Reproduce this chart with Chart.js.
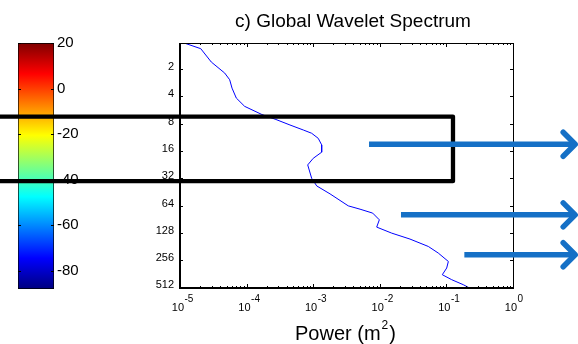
<!DOCTYPE html>
<html>
<head>
<meta charset="utf-8">
<script src="https://cdn.jsdelivr.net/npm/chart.js@4.4.1/dist/chart.umd.min.js"></script>
<style>
  html, body { margin: 0; padding: 0; background: #fff; }
  #wrap { position: relative; width: 578px; height: 344px; overflow: hidden; }
  #wrap canvas { position: absolute; left: 0; top: 0; }
</style>
</head>
<body>
<div id="wrap">
  <canvas id="cbar" width="100" height="344"></canvas>
  <canvas id="gws" width="578" height="344"></canvas>
</div>
<script>
/* c) Global Wavelet Spectrum + colour scale */
const FONT = '"Liberation Sans", Arial, Helvetica, sans-serif';

// global wavelet spectrum (period vs power)
const PERIOD = [1.02, 1.19, 1.67, 2.21, 2.62, 3.24, 4.17, 5.15, 6.34, 7.19, 8.27, 9.39, 10.2, 11.6, 13.7, 16.5,
                19.3, 22.8, 32.0, 38.9, 47.6, 64.5, 70.2, 77.6, 92.0, 110.7, 129, 150, 181, 214, 265, 313, 371, 421, 478, 523];
const POWER = [1.11e-5, 2.05e-5, 2.95e-5, 4.69e-5, 5.57e-5, 6.04e-5, 7.0e-5, 9.35e-5, 1.70e-4, 2.76e-4, 4.48e-4, 7.10e-4, 9.48e-4, 1.19e-3, 1.34e-3, 1.34e-3,
               1.00e-3, 8.27e-4, 9.48e-4, 1.13e-3, 1.79e-3, 3.36e-3, 5.05e-3, 7.82e-3, 9.84e-3, 8.98e-3, 1.51e-2, 2.84e-2, 5.35e-2, 7.55e-2, 0.107, 0.101, 0.0868, 0.120, 0.179, 0.226];

const PERIOD_TICKS = [2, 4, 8, 16, 32, 64, 128, 256, 512];
const PERIOD_RANGE = [1.03, 520];
const POWER_EXPONENTS = [-5, -4, -3, -2, -1, 0];

// colour bar
const CBAR_TICKS = [20, 0, -20, -40, -60, -80];
const CBAR_RANGE = [-88.1, 20];
const JET_STOPS = [0, 0.125, 0.375, 0.625, 0.875, 1];
const JET_COLORS = ['#00007f', '#0000ff', '#00ffff', '#ffff00', '#ff0000', '#7f0000'];

// overlay marks, in data units of the spectrum axes
const BOX = { xMin: 1e-8, xMax: 0.1256, yTop: 6.67, yBottom: 34.5 };
const ARROWS = [
  { y: 13.5, from: 6.89e-3, to: 9.2 },
  { y: 81.1, from: 0.0208, to: 9.2 },
  { y: 223.6, from: 0.186, to: 9.2 }
];

const cbarTicks = {
  id: 'cbarTicks',
  afterDraw(chart) {
    const { ctx, chartArea: a, scales: { y } } = chart;
    ctx.save();
    ctx.strokeStyle = '#000';
    ctx.lineWidth = 1;
    CBAR_TICKS.forEach(v => {
      const py = Math.round(y.getPixelForValue(v)) + 0.5;
      ctx.beginPath();
      ctx.moveTo(a.left, py); ctx.lineTo(a.left + 3, py);
      ctx.moveTo(a.right - 3, py); ctx.lineTo(a.right, py);
      ctx.stroke();
    });
    ctx.restore();
  }
};

new Chart(document.getElementById('cbar'), {
  type: 'bar',
  data: {
    labels: [''],
    datasets: [{
      data: [CBAR_RANGE],
      backgroundColor: (c) => {
        const chart = c.chart;
        if (!chart.chartArea) return null;
        const ys = chart.scales.y;
        const g = chart.ctx.createLinearGradient(0, ys.getPixelForValue(CBAR_RANGE[0]), 0, ys.getPixelForValue(CBAR_RANGE[1]));
        JET_STOPS.forEach((s, i) => g.addColorStop(s, JET_COLORS[i]));
        return g;
      },
      borderColor: '#000',
      borderWidth: 1,
      borderSkipped: false,
      barPercentage: 1,
      categoryPercentage: 1
    }]
  },
  options: {
    responsive: false,
    animation: false,
    events: [],
    layout: { padding: { left: 18, top: 43, bottom: 55, right: 0 } },
    plugins: { legend: { display: false }, tooltip: { enabled: false } },
    scales: {
      x: { display: false },
      y: {
        position: 'right',
        min: CBAR_RANGE[0], max: CBAR_RANGE[1],
        afterBuildTicks: s => { s.ticks = CBAR_TICKS.map(v => ({ value: v })); },
        afterFit: s => { s.width = 46; },
        grid: { display: false, drawTicks: false },
        border: { display: false },
        ticks: { color: '#000', padding: 3, font: { size: 15, family: FONT } }
      }
    }
  },
  plugins: [cbarTicks]
});

const frame = {
  id: 'frame',
  afterDraw(chart) {
    const { ctx, chartArea: a, scales: { x, y } } = chart;
    ctx.save();
    ctx.strokeStyle = '#000';
    ctx.fillStyle = '#000';

    // x ticks (inward, top and bottom)
    ctx.lineWidth = 1;
    ctx.beginPath();
    POWER_EXPONENTS.forEach(e => {
      for (let m = 1; m < 10; m++) {
        if (e === 0 && m > 1) break;
        const px = Math.round(x.getPixelForValue(m * Math.pow(10, e))) + 0.5;
        const len = m === 1 ? 4 : 2;
        ctx.moveTo(px, a.bottom); ctx.lineTo(px, a.bottom - len);
        ctx.moveTo(px, a.top); ctx.lineTo(px, a.top + len);
      }
    });
    // y ticks (inward, left and right)
    PERIOD_TICKS.forEach(v => {
      const py = Math.round(y.getPixelForValue(v)) + 0.5;
      ctx.moveTo(a.left, py); ctx.lineTo(a.left + 3, py);
      ctx.moveTo(a.right, py); ctx.lineTo(a.right - 3, py);
    });
    ctx.stroke();

    // box: left/bottom heavier
    ctx.beginPath();
    ctx.moveTo(a.left, a.top + 0.5); ctx.lineTo(a.right + 0.5, a.top + 0.5); ctx.lineTo(a.right + 0.5, a.bottom);
    ctx.stroke();
    ctx.lineWidth = 2;
    ctx.beginPath();
    ctx.moveTo(a.left, a.top); ctx.lineTo(a.left, a.bottom); ctx.lineTo(a.right + 1, a.bottom);
    ctx.stroke();

    // y labels
    ctx.font = '11px ' + FONT;
    ctx.textAlign = 'right';
    ctx.textBaseline = 'middle';
    PERIOD_TICKS.forEach(v => ctx.fillText(String(v), a.left - 6, y.getPixelForValue(v) - 2));

    // x labels: 10 with superscript exponent
    ctx.textBaseline = 'alphabetic';
    POWER_EXPONENTS.forEach(e => {
      const px = x.getPixelForValue(Math.pow(10, e));
      ctx.font = '11px ' + FONT;
      ctx.textAlign = 'right';
      ctx.fillText('10', px + 4, a.bottom + 23);
      ctx.font = '10px ' + FONT;
      ctx.textAlign = 'left';
      ctx.fillText(String(e), px + 4.5, a.bottom + 14);
    });

    // title
    ctx.font = '19px ' + FONT;
    ctx.textAlign = 'center';
    ctx.fillText('c) Global Wavelet Spectrum', 353, 27);

    // axis label Power (m^2)
    ctx.textAlign = 'left';
    ctx.font = '20px ' + FONT;
    let tx = 295;
    ctx.fillText('Power (m', tx, 340);
    tx += ctx.measureText('Power (m').width + 1;
    ctx.font = '12px ' + FONT;
    ctx.fillText('2', tx, 329);
    tx += ctx.measureText('2').width + 1;
    ctx.font = '20px ' + FONT;
    ctx.fillText(')', tx, 340);

    // black box overlay
    ctx.lineWidth = 4.3;
    ctx.lineJoin = 'round';
    ctx.beginPath();
    const bx0 = x.getPixelForValue(BOX.xMin), bx1 = x.getPixelForValue(BOX.xMax);
    const by0 = y.getPixelForValue(BOX.yTop), by1 = y.getPixelForValue(BOX.yBottom);
    ctx.moveTo(bx0, by0); ctx.lineTo(bx1, by0); ctx.lineTo(bx1, by1); ctx.lineTo(bx0, by1);
    ctx.stroke();

    // blue arrows
    ctx.strokeStyle = '#1570c6';
    ctx.lineWidth = 5.5;
    ARROWS.forEach(ar => {
      const py = y.getPixelForValue(ar.y);
      const x0 = x.getPixelForValue(ar.from), x1 = x.getPixelForValue(ar.to);
      ctx.lineCap = 'butt';
      ctx.beginPath();
      ctx.moveTo(x0, py); ctx.lineTo(x1 - 3, py);
      ctx.stroke();
      ctx.lineCap = 'round';
      ctx.beginPath();
      ctx.moveTo(x1 - 14, py - 12); ctx.lineTo(x1 - 2, py); ctx.lineTo(x1 - 14, py + 12);
      ctx.stroke();
    });
    ctx.restore();
  }
};

new Chart(document.getElementById('gws'), {
  type: 'line',
  data: {
    datasets: [{
      data: PERIOD.map((p, i) => ({ x: POWER[i], y: p })),
      borderColor: '#0000ff',
      borderWidth: 1,
      pointRadius: 0,
      tension: 0,
      fill: false
    }]
  },
  options: {
    responsive: false,
    animation: false,
    events: [],
    layout: { padding: { left: 0, top: 43, right: 65, bottom: 0 } },
    plugins: { legend: { display: false }, tooltip: { enabled: false } },
    scales: {
      x: {
        type: 'logarithmic',
        min: 1e-5, max: 1,
        afterFit: s => { s.height = 56; },
        ticks: { display: false },
        grid: { display: false, drawTicks: false },
        border: { display: false }
      },
      y: {
        type: 'logarithmic',
        reverse: true,
        min: PERIOD_RANGE[0], max: PERIOD_RANGE[1],
        afterBuildTicks: s => { s.ticks = PERIOD_TICKS.map(v => ({ value: v })); },
        afterFit: s => { s.width = 180; },
        ticks: { display: false },
        grid: { display: false, drawTicks: false },
        border: { display: false }
      }
    }
  },
  plugins: [frame]
});
</script>
</body>
</html>
